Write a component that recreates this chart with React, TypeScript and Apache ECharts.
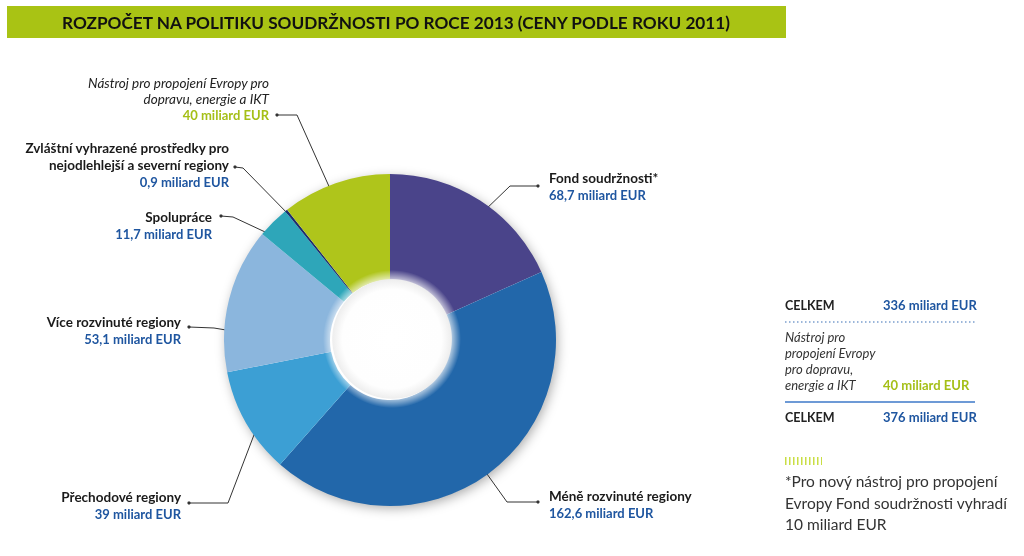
import React, { useEffect, useRef } from "react";
import * as echarts from "echarts";

const TITLE = "ROZPOČET NA POLITIKU SOUDRŽNOSTI PO ROCE 2013 (CENY PODLE ROKU 2011)";
const CATEGORIES = [
  "Fond soudržnosti*",
  "Méně rozvinuté regiony",
  "Přechodové regiony",
  "Více rozvinuté regiony",
  "Spolupráce",
  "Zvláštní vyhrazené prostředky pro\nnejodlehlejší a severní regiony",
  "Nástroj pro propojení Evropy pro\ndopravu, energie a IKT",
];
const VALUES = [68.7, 162.6, 39, 53.1, 11.7, 0.9, 40];
const UNIT = "miliard EUR";
const TABLE_TOTAL_1 = ["CELKEM", "336 miliard EUR"];
const TABLE_EXTRA_NAME = ["Nástroj pro", "propojení Evropy", "pro dopravu,", "energie a IKT"];
const TABLE_EXTRA_VALUE = "40 miliard EUR";
const TABLE_TOTAL_2 = ["CELKEM", "376 miliard EUR"];
const FOOTNOTE = ["*Pro nový nástroj pro propojení", "Evropy Fond soudržnosti vyhradí", "10 miliard EUR"];

const COLORS = ["#4a448a", "#2267aa", "#3c9fd4", "#8bb6dd", "#2ea6b9", "#1c2e6e", "#afc51b"];
const ITALIC_ITEM = 6;
const BLUE = "#1f56a0";
const GREEN = "#a5bf17";
const FONT = "Lato, 'Noto Sans', sans-serif";

const CX = 390;
const CY = 340;

const LABEL_LAYOUT = [
  { x: 549, y: 169, align: "left", line: [[482, 213], [510, 186], [538, 186]] },
  { x: 549, y: 487, align: "left", line: [[477, 460], [507, 502], [538, 502]] },
  { x: 181, y: 488, align: "right", line: [[257, 427], [228, 503], [189, 503]] },
  { x: 181, y: 313, align: "right", line: [[238, 332], [214, 328], [189, 327]] },
  { x: 212, y: 208, align: "right", line: [[278, 238], [233, 217], [221, 216]] },
  { x: 229, y: 139, align: "right", line: [[292, 218], [243, 168], [235, 167]] },
  { x: 269, y: 75, align: "right", line: [[336, 202], [297, 115], [277, 115]] },
];

function fmt(v: number) {
  return String(v).replace(".", ",") + " " + UNIT;
}

export default function App() {
  const ref = useRef<HTMLDivElement>(null);
  useEffect(() => {
    document.body.style.margin = "0";
    const chart = echarts.init(ref.current!, null, { renderer: "svg" });
    const textBase = { fontFamily: FONT };

    const graphics: any[] = [
      { type: "rect", shape: { x: 7, y: 6, width: 779, height: 32 }, style: { fill: "#a9c314" }, z: 1 },
      {
        type: "text", x: 396, y: 22, z: 2,
        style: { ...textBase, text: TITLE, fill: "#111", fontSize: 17.2, fontWeight: "bold", align: "center", verticalAlign: "middle" },
      },
      // outer shadow disk
      {
        type: "circle", shape: { cx: CX, cy: CY, r: 165 }, z: 0,
        style: { fill: "#ffffff", shadowBlur: 12, shadowColor: "rgba(0,0,0,0.35)", shadowOffsetX: 2, shadowOffsetY: 3 },
      },
      // hole with glow
      {
        type: "circle", shape: { cx: CX + 2, cy: CY - 1, r: 69 }, z: 100, silent: true,
        style: {
          fill: new echarts.graphic.RadialGradient(0.5, 0.5, 0.5, [
            { offset: 0, color: "#ffffff" },
            { offset: 0.72, color: "#fefefe" },
            { offset: 0.86, color: "#eeeeee" },
            { offset: 0.875, color: "rgba(255,255,255,0.6)" },
            { offset: 1, color: "rgba(255,255,255,0)" },
          ]),
        },
      },
      // table
      { type: "text", x: 785, y: 305, style: { ...textBase, text: TABLE_TOTAL_1[0], fill: "#222", fontSize: 12.5, fontWeight: "bold", verticalAlign: "middle" } },
      { type: "text", x: 883, y: 305, style: { ...textBase, text: TABLE_TOTAL_1[1], fill: BLUE, fontSize: 13, fontWeight: "bold", verticalAlign: "middle" } },
      { type: "line", shape: { x1: 785, y1: 322, x2: 975, y2: 322 }, style: { stroke: "#3a6fb5", lineWidth: 1.2, lineDash: [1.5, 2.5] } },
      ...TABLE_EXTRA_NAME.map((t, i) => ({
        type: "text", x: 785, y: 337 + i * 16,
        style: { ...textBase, text: t, fill: "#333", fontSize: 13, fontStyle: "italic", verticalAlign: "middle" },
      })),
      { type: "text", x: 883, y: 385, style: { ...textBase, text: TABLE_EXTRA_VALUE, fill: GREEN, fontSize: 13, fontWeight: "bold", verticalAlign: "middle" } },
      { type: "line", shape: { x1: 785, y1: 402, x2: 975, y2: 402 }, style: { stroke: "#3c78c8", lineWidth: 1.5 } },
      { type: "text", x: 785, y: 417, style: { ...textBase, text: TABLE_TOTAL_2[0], fill: "#222", fontSize: 12.5, fontWeight: "bold", verticalAlign: "middle" } },
      { type: "text", x: 883, y: 417, style: { ...textBase, text: TABLE_TOTAL_2[1], fill: BLUE, fontSize: 13, fontWeight: "bold", verticalAlign: "middle" } },
      { type: "line", shape: { x1: 785, y1: 461, x2: 822, y2: 461 }, style: { stroke: "#c9de45", lineWidth: 8, lineDash: [1.5, 2.5] } },
      ...FOOTNOTE.map((t, i) => ({
        type: "text", x: 785, y: 481 + i * 21.5,
        style: { ...textBase, text: t, fill: "#333", fontSize: 15.5, verticalAlign: "middle" },
      })),
      // leader dots
      ...LABEL_LAYOUT.map((l) => {
        const p = l.line[l.line.length - 1];
        return { type: "circle", shape: { cx: p[0], cy: p[1], r: 1.6 }, style: { fill: "#333" }, z: 50 };
      }),
    ];

    const data = CATEGORIES.map((name, i) => {
      const italic = i === ITALIC_ITEM;
      const nameLines = name.split("\n").map((l) => `{${italic ? "ni" : "n"}|${l}}`).join("\n");
      return {
        name,
        value: VALUES[i],
        itemStyle: { color: COLORS[i] },
        label: {
          formatter: `${nameLines}\n{${italic ? "vg" : "v"}|${fmt(VALUES[i])}}`,
        },
      };
    });

    chart.setOption({
      animation: false,
      graphic: graphics,
      series: [
        {
          type: "pie",
          center: [CX, CY],
          radius: [60, 166],
          startAngle: 90,
          clockwise: true,
          avoidLabelOverlap: false,
          z: 2,
          itemStyle: { borderWidth: 0 },
          emphasis: { disabled: true },
          data,
          label: {
            show: true,
            position: "outside",
            fontFamily: FONT,
            rich: {
              n: { fontFamily: FONT, fontSize: 13.5, fontWeight: "bold", color: "#1a1a1a", lineHeight: 17 },
              ni: { fontFamily: FONT, fontSize: 13.5, fontStyle: "italic", color: "#222", lineHeight: 16 },
              v: { fontFamily: FONT, fontSize: 13, fontWeight: "bold", color: BLUE, lineHeight: 17 },
              vg: { fontFamily: FONT, fontSize: 13, fontWeight: "bold", color: GREEN, lineHeight: 16 },
            },
          },
          labelLine: { show: true, lineStyle: { color: "#333", width: 1 } },
          labelLayout: (params: any) => {
            const l = LABEL_LAYOUT[params.dataIndex];
            return {
              x: l.x,
              y: l.y,
              align: l.align,
              verticalAlign: "top",
              labelLinePoints: l.line,
            };
          },
        },
      ],
    });
    return () => chart.dispose();
  }, []);
  return <div ref={ref} style={{ position: "fixed", left: 0, top: 0, width: 1024, height: 556 }} />;
}
